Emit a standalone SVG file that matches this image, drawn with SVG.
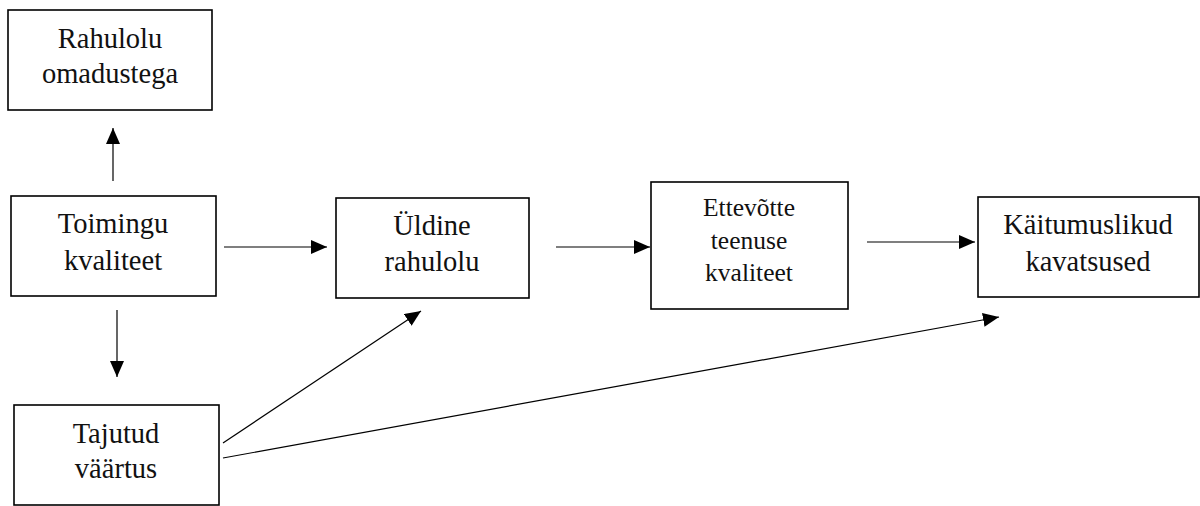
<svg xmlns="http://www.w3.org/2000/svg" width="1200" height="506" viewBox="0 0 1200 506">
<style>
.box{fill:#fff;stroke:#000;stroke-width:1.6}
text{font-family:'Liberation Serif','Times New Roman',Times,serif;font-size:28.5px;fill:#111;text-anchor:middle}
text.s{font-size:25.5px}
.c{stroke:#000;stroke-width:1.2;fill:none;marker-end:url(#ah)}
</style>
<defs>
<marker id="ah" markerUnits="userSpaceOnUse" markerWidth="17" markerHeight="15" refX="16" refY="7" orient="auto">
<path d="M0,0 L16,7 L0,14 z" fill="#000"/>
</marker>
</defs>
<rect width="1200" height="506" fill="#fff"/>
<g id="connectors">
<line class="c" x1="113" y1="181" x2="113" y2="128"/>
<line class="c" x1="224" y1="247" x2="327" y2="247"/>
<line class="c" x1="117" y1="310" x2="117" y2="377"/>
<line class="c" x1="556" y1="247" x2="650" y2="247"/>
<line class="c" x1="867" y1="242" x2="975" y2="242"/>
<line class="c" x1="223" y1="443" x2="421" y2="311"/>
<line class="c" x1="223" y1="458" x2="999" y2="317"/>
</g>
<g id="rahulolu-omadustega">
<rect class="box" x="8" y="10" width="204" height="100"/>
<text x="110" y="48">Rahulolu</text>
<text x="110" y="83">omadustega</text>
</g>
<g id="toimingu-kvaliteet">
<rect class="box" x="11" y="196" width="205" height="100"/>
<text x="113" y="233">Toimingu</text>
<text x="113" y="270">kvaliteet</text>
</g>
<g id="uldine-rahulolu">
<rect class="box" x="336" y="198" width="193" height="100"/>
<text x="432" y="235">Üldine</text>
<text x="432" y="271">rahulolu</text>
</g>
<g id="ettevotte-teenuse-kvaliteet">
<rect class="box" x="651" y="182" width="197" height="127"/>
<text class="s" x="749" y="216">Ettevõtte</text>
<text class="s" x="749" y="249">teenuse</text>
<text class="s" x="749" y="281">kvaliteet</text>
</g>
<g id="kaitumuslikud-kavatsused">
<rect class="box" x="978" y="197" width="221" height="100"/>
<text x="1088" y="234">Käitumuslikud</text>
<text x="1088" y="271">kavatsused</text>
</g>
<g id="tajutud-vaartus">
<rect class="box" x="14" y="405" width="205" height="100"/>
<text x="116" y="443">Tajutud</text>
<text x="116" y="478">väärtus</text>
</g>
</svg>
